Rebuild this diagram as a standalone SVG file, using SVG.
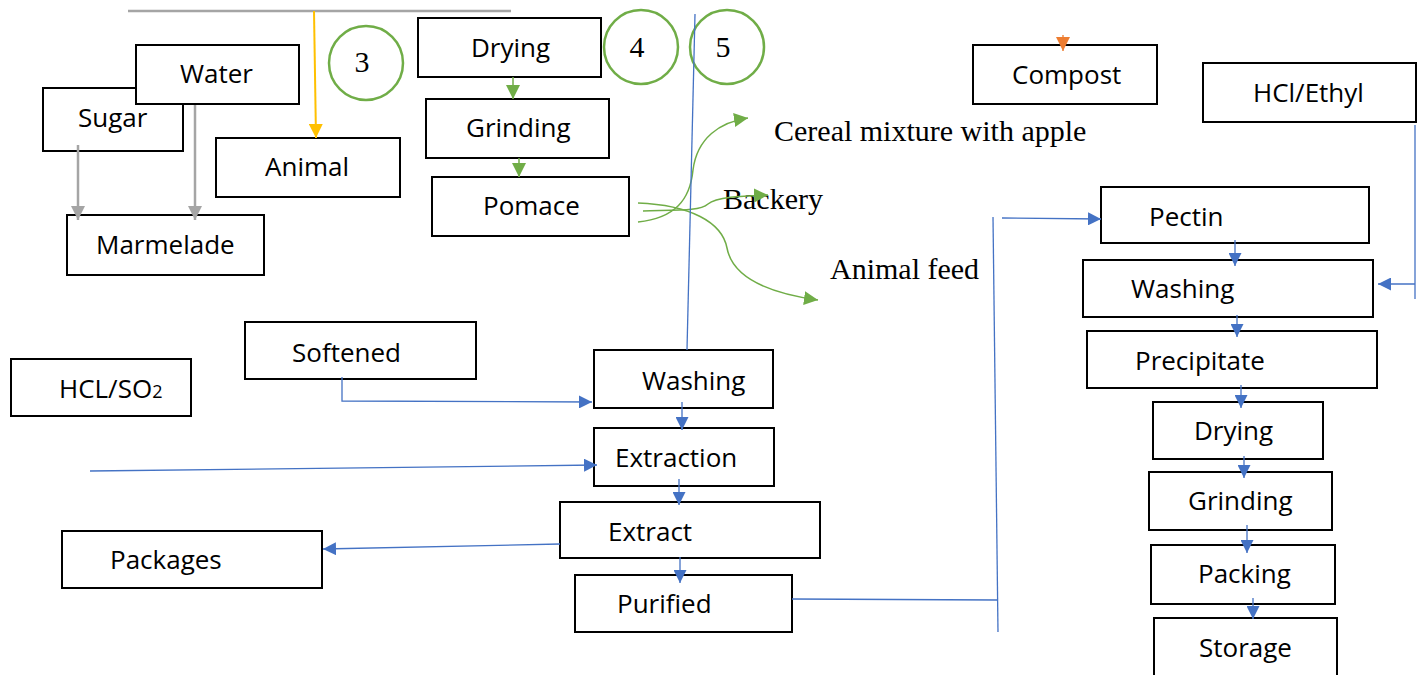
<svg xmlns="http://www.w3.org/2000/svg" width="1421" height="675" viewBox="0 0 1421 675">
<style>
.box{fill:#fff;stroke:#000;stroke-width:2}
.t{font-family:"Open Sans","Liberation Sans",sans-serif;font-size:26px;fill:#000}
.s{font-family:"Liberation Serif","Times New Roman",serif;font-size:30px;fill:#000}
.circ{fill:none;stroke:#70AD47;stroke-width:2.5}
.blue{fill:none;stroke:#4472C4;stroke-width:1.3}
.green{fill:none;stroke:#70AD47;stroke-width:1.5}
.gray{fill:none;stroke:#A5A5A5;stroke-width:2.5}
</style>
<defs>
<marker id="ab" viewBox="0 0 10 10" refX="10" refY="5" markerUnits="userSpaceOnUse" markerWidth="13" markerHeight="13" orient="auto"><path d="M0,0 L10,5 L0,10 Z" fill="#4472C4"/></marker>
<marker id="ag" viewBox="0 0 10 10" refX="10" refY="5" markerUnits="userSpaceOnUse" markerWidth="14" markerHeight="14" orient="auto"><path d="M0,0 L10,5 L0,10 Z" fill="#70AD47"/></marker>
<marker id="agr" viewBox="0 0 10 10" refX="10" refY="5" markerUnits="userSpaceOnUse" markerWidth="14" markerHeight="14" orient="auto"><path d="M0,0 L10,5 L0,10 Z" fill="#A5A5A5"/></marker>
<marker id="ay" viewBox="0 0 10 10" refX="10" refY="5" markerUnits="userSpaceOnUse" markerWidth="14" markerHeight="14" orient="auto"><path d="M0,0 L10,5 L0,10 Z" fill="#FFC000"/></marker>
<marker id="ao" viewBox="0 0 10 10" refX="10" refY="5" markerUnits="userSpaceOnUse" markerWidth="14" markerHeight="14" orient="auto"><path d="M0,0 L10,5 L0,10 Z" fill="#ED7D31"/></marker>
</defs>
<rect width="1421" height="675" fill="#fff"/>

<g id="sugar"><rect x="43" y="88" width="140" height="63" class="box"/><text x="78" y="127" class="t">Sugar</text></g>
<g id="water"><rect x="136" y="45" width="163" height="59" class="box"/><text x="180" y="83" class="t">Water</text></g>
<g id="animal"><rect x="216" y="138" width="184" height="59" class="box"/><text x="265" y="176" class="t">Animal</text></g>
<g id="marmelade"><rect x="67" y="215" width="197" height="60" class="box"/><text x="96" y="254" class="t">Marmelade</text></g>
<g id="circle3"><circle cx="366" cy="63" r="37" class="circ"/><text x="362" y="72" class="s" text-anchor="middle">3</text></g>
<g id="drying1"><rect x="418" y="18" width="183" height="59" class="box"/><text x="471" y="57" class="t">Drying</text></g>
<g id="grinding1"><rect x="426" y="99" width="183" height="59" class="box"/><text x="466" y="137" class="t">Grinding</text></g>
<g id="pomace"><rect x="432" y="177" width="197" height="59" class="box"/><text x="483" y="215" class="t">Pomace</text></g>
<g id="circle4"><circle cx="641" cy="47" r="37" class="circ"/><text x="637" y="57" class="s" text-anchor="middle">4</text></g>
<g id="circle5"><circle cx="727" cy="47" r="37" class="circ"/><text x="723" y="57" class="s" text-anchor="middle">5</text></g>
<g id="cereal"><text x="774" y="141" class="s">Cereal mixture with apple</text></g>
<g id="backery"><text x="723" y="209" class="s">Backery</text></g>
<g id="animalfeed"><text x="830" y="279" class="s">Animal feed</text></g>
<g id="compost"><rect x="973" y="45" width="184" height="59" class="box"/><text x="1012" y="84" class="t">Compost</text></g>
<g id="hclethyl"><rect x="1203" y="63" width="213" height="59" class="box"/><text x="1253" y="102" class="t">HCl/Ethyl</text></g>
<g id="pectin"><rect x="1101" y="187" width="268" height="56" class="box"/><text x="1149" y="226" class="t">Pectin</text></g>
<g id="washing2"><rect x="1083" y="260" width="290" height="57" class="box"/><text x="1131" y="298" class="t">Washing</text></g>
<g id="precipitate"><rect x="1087" y="331" width="290" height="57" class="box"/><text x="1135" y="370" class="t">Precipitate</text></g>
<g id="drying2"><rect x="1153" y="402" width="170" height="57" class="box"/><text x="1194" y="440" class="t">Drying</text></g>
<g id="grinding2"><rect x="1149" y="472" width="183" height="58" class="box"/><text x="1188" y="510" class="t">Grinding</text></g>
<g id="packing"><rect x="1151" y="545" width="184" height="59" class="box"/><text x="1198" y="583" class="t">Packing</text></g>
<g id="storage"><rect x="1154" y="618" width="183" height="70" class="box"/><text x="1199" y="657" class="t">Storage</text></g>
<g id="softened"><rect x="245" y="322" width="231" height="57" class="box"/><text x="292" y="362" class="t">Softened</text></g>
<g id="hclso2"><rect x="11" y="359" width="180" height="57" class="box"/><text x="59" y="398" class="t">HCL/SO<tspan font-size="18">2</tspan></text></g>
<g id="washing1"><rect x="594" y="350" width="179" height="58" class="box"/><text x="642" y="390" class="t">Washing</text></g>
<g id="extraction"><rect x="594" y="428" width="180" height="58" class="box"/><text x="615" y="467" class="t">Extraction</text></g>
<g id="extract"><rect x="560" y="502" width="260" height="56" class="box"/><text x="608" y="541" class="t">Extract</text></g>
<g id="purified"><rect x="575" y="575" width="217" height="57" class="box"/><text x="617" y="613" class="t">Purified</text></g>
<g id="packages"><rect x="62" y="531" width="260" height="57" class="box"/><text x="110" y="569" class="t">Packages</text></g>

<g id="connectors">
<line x1="128" y1="11" x2="511" y2="11" class="gray"/>
<line x1="314" y1="11" x2="316" y2="138" stroke="#FFC000" stroke-width="2" marker-end="url(#ay)"/>
<line x1="78" y1="145" x2="78" y2="220" class="gray" marker-end="url(#agr)"/>
<line x1="195" y1="105" x2="195" y2="220" class="gray" marker-end="url(#agr)"/>
<line x1="513" y1="77" x2="513" y2="99" class="green" marker-end="url(#ag)"/>
<line x1="519" y1="158" x2="519" y2="177" class="green" marker-end="url(#ag)"/>
<path d="M638,222 C675,218 690,200 693,170 C697,138 720,122 748,118" class="green" marker-end="url(#ag)"/>
<path d="M643,211 C680,210 700,211 708,204 C716,197 740,196 768,195" class="green" marker-end="url(#ag)"/>
<path d="M638,203 C690,205 722,222 727,248 C733,280 775,294 818,300" class="green" marker-end="url(#ag)"/>
<line x1="1063" y1="35" x2="1063" y2="51" stroke="#ED7D31" stroke-width="1.3" marker-end="url(#ao)"/>
<line x1="695" y1="14" x2="687" y2="350" class="blue"/>
<polyline points="342,377 342,401 592,402" class="blue" marker-end="url(#ab)"/>
<line x1="682" y1="402" x2="682" y2="430" class="blue" marker-end="url(#ab)"/>
<line x1="90" y1="471" x2="597" y2="465" class="blue" marker-end="url(#ab)"/>
<line x1="679" y1="479" x2="679" y2="505" class="blue" marker-end="url(#ab)"/>
<line x1="560" y1="544" x2="323" y2="549" class="blue" marker-end="url(#ab)"/>
<line x1="680" y1="557" x2="680" y2="583" class="blue" marker-end="url(#ab)"/>
<line x1="792" y1="599" x2="997" y2="600" class="blue"/>
<line x1="993" y1="217" x2="998" y2="632" class="blue"/>
<line x1="1002" y1="218" x2="1101" y2="219" class="blue" marker-end="url(#ab)"/>
<polyline points="1415,125 1415,299" class="blue"/>
<line x1="1415" y1="284" x2="1378" y2="284" class="blue" marker-end="url(#ab)"/>
<line x1="1235" y1="240" x2="1235" y2="266" class="blue" marker-end="url(#ab)"/>
<line x1="1237" y1="315" x2="1237" y2="337" class="blue" marker-end="url(#ab)"/>
<line x1="1241" y1="385" x2="1241" y2="408" class="blue" marker-end="url(#ab)"/>
<line x1="1244" y1="456" x2="1244" y2="478" class="blue" marker-end="url(#ab)"/>
<line x1="1247" y1="525" x2="1247" y2="553" class="blue" marker-end="url(#ab)"/>
<line x1="1253" y1="598" x2="1253" y2="619" class="blue" marker-end="url(#ab)"/>
</g>
</svg>
